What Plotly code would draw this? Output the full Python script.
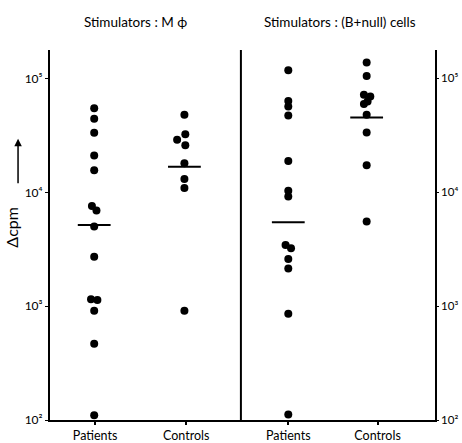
import plotly.graph_objects as go

# ---- data (cpm values) ----
categories = ["Patients", "Controls", "Patients", "Controls"]
cat_pos = [1.0, 2.0, 3.12, 4.1]          # tick positions of the four groups
dot_pos = [0.99, 1.98, 3.12, 3.98]       # column where each group's dots sit

mphi_patients = [54800, 44200, 33300, 21000, 15600, 7590, 6910, 5000, 2720,
                 1150, 1130, 913, 468, 110]
mphi_patients_dx = [0, 0, 0, 0, 0, -0.025, 0.025, 0, 0, -0.035, 0.035, 0, 0, 0]
mphi_controls = [47900, 32400, 28900, 25900, 18000, 13100, 10900, 913]
mphi_controls_dx = [0, 0.01, -0.08, 0.01, 0, 0, 0, 0]

bnull_patients = [118000, 63500, 56600, 47200, 18800, 10300, 9170, 3450, 3230,
                  2600, 2140, 859, 112]
bnull_patients_dx = [0, 0, 0, 0, 0, 0, 0, -0.03, 0.03, 0, 0, 0, 0]
bnull_controls = [138000, 105000, 71800, 69300, 62700, 59800, 47900, 33500,
                  17300, 5530]
bnull_controls_dx = [0, 0, -0.03, 0.04, 0.01, -0.03, 0, 0, 0, 0]

medians = [5170, 16800, 5460, 45300]

y_ticks = [100, 1000, 10000, 100000]
y_tick_text = ["10²", "10³", "10⁴", "10⁵"]

titles = ["Stimulators : M ϕ", "Stimulators : (B+null) cells"]
title_pos = [1.44, 3.69]
divider_x = 2.6

FONT = "Lato"
groups = [
    (mphi_patients, mphi_patients_dx),
    (mphi_controls, mphi_controls_dx),
    (bnull_patients, bnull_patients_dx),
    (bnull_controls, bnull_controls_dx),
]

fig = go.Figure()
for (vals, dx), base in zip(groups, dot_pos):
    fig.add_trace(go.Scatter(
        x=[base + d for d in dx], y=vals, mode="markers",
        marker=dict(color="black", size=8), showlegend=False,
        hoverinfo="y"))

half = 0.18
for m, base in zip(medians, dot_pos):
    fig.add_trace(go.Scatter(
        x=[base - half, base + half], y=[m, m], mode="lines",
        line=dict(color="black", width=2), showlegend=False, hoverinfo="skip"))

# invisible trace to activate the right-hand axis
fig.add_trace(go.Scatter(x=[cat_pos[0]], y=[1000], yaxis="y2", mode="markers",
                         marker=dict(opacity=0), showlegend=False,
                         hoverinfo="skip"))

fig.add_shape(type="line", xref="x", yref="paper", x0=divider_x, x1=divider_x,
              y0=0, y1=1, line=dict(color="black", width=2))

for t, xp in zip(titles, title_pos):
    fig.add_annotation(text=t, x=xp, xref="x", y=1.081, yref="paper",
                       yanchor="middle", yshift=-2, showarrow=False,
                       font=dict(family=FONT, size=13.5, color="black"))

fig.add_annotation(text="Δcpm", x=-0.083, xref="paper", y=0.52, yref="paper",
                   xanchor="center", yanchor="middle", xshift=-6,
                   textangle=-90, showarrow=False,
                   font=dict(family=FONT, size=16, color="black"))
fig.add_annotation(text="", x=-0.083, xref="paper", y=0.76, yref="paper",
                   showarrow=True, ax=0, ay=46, arrowhead=2, arrowsize=1,
                   arrowwidth=1.5, arrowcolor="black")

yrange = [2.0, 5.25]
fig.update_layout(
    width=462, height=443,
    margin=dict(l=50, r=27, t=50, b=23, autoexpand=False),
    paper_bgcolor="white", plot_bgcolor="white",
    font=dict(family=FONT, size=12, color="black"),
    xaxis=dict(range=[0.505, 4.73], tickvals=cat_pos, ticktext=categories,
               showgrid=False, zeroline=False, showline=True,
               linecolor="black", linewidth=2, ticks="outside", ticklen=3,
               tickwidth=1.5, tickcolor="black", automargin=False,
               tickfont=dict(family=FONT, size=12.5, color="black")),
    yaxis=dict(type="log", range=yrange, tickvals=y_ticks,
               ticktext=y_tick_text, showgrid=False, zeroline=False,
               showline=True, linecolor="black", linewidth=2,
               ticks="outside", ticklen=3, tickcolor="black", automargin=False,
               tickfont=dict(family=FONT, size=12, color="black")),
    yaxis2=dict(type="log", range=yrange, tickvals=y_ticks,
                ticktext=y_tick_text, overlaying="y", side="right",
                showgrid=False, zeroline=False, showline=True,
                linecolor="black", linewidth=1.5, ticks="outside",
                ticklen=2, tickcolor="black", automargin=False,
                tickfont=dict(family=FONT, size=11.5, color="black")),
)

fig.write_html("out.html",
               config={"displayModeBar": False},
               post_script="document.body.style.margin='0';"
                           "document.body.style.overflow='hidden';")
